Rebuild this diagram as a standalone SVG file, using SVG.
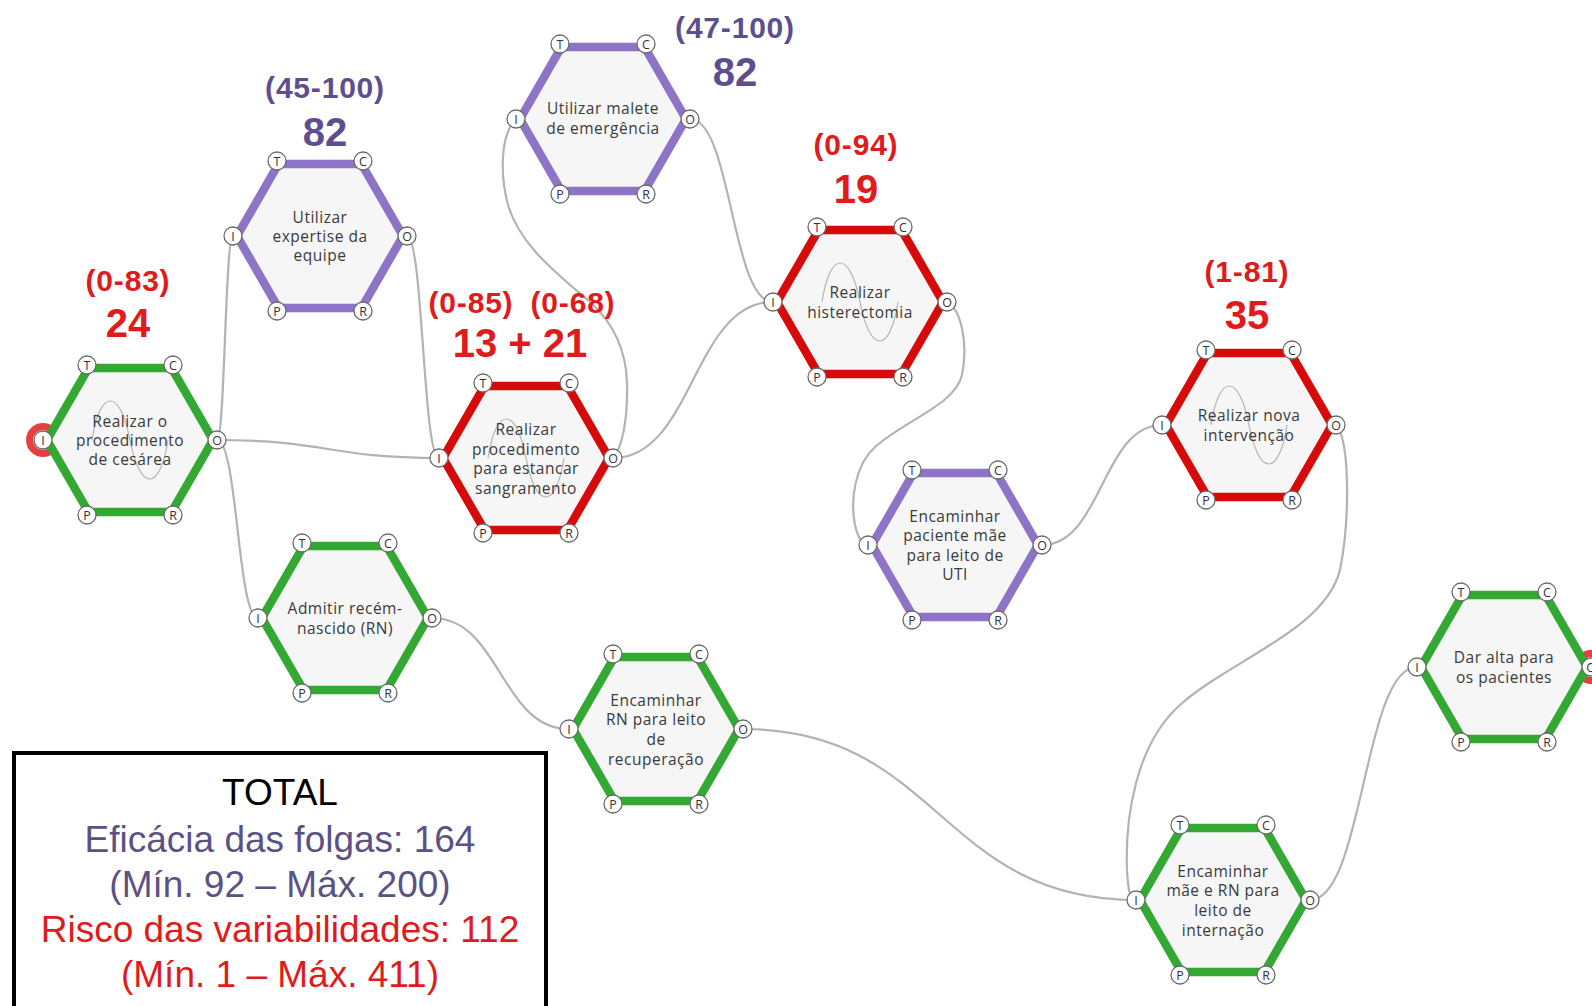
<svg xmlns="http://www.w3.org/2000/svg" xmlns:xlink="http://www.w3.org/1999/xlink" width="1592" height="1006" viewBox="0 0 1592 1006">
  <style>
    .hx { fill: #f6f6f6; stroke-width: 8.5; stroke-linejoin: miter; }
    .green { stroke: #33a833; }
    .red { stroke: #d70a0a; }
    .purple { stroke: #8e74c6; }
    .wave { fill: none; stroke: #b4b4b4; stroke-width: 1.2; }
    .port { fill: #ffffff; stroke: #6a6a6a; stroke-width: 1.3; }
    .pl { font-family: "Open Sans", "DejaVu Sans", sans-serif; font-size: 12.5px; fill: #333; text-anchor: middle; dominant-baseline: central; }
    .lbl { font-family: "Open Sans", "DejaVu Sans", sans-serif; font-size: 15.5px; fill: #3a3a3a; text-anchor: middle; dominant-baseline: central; letter-spacing: 0.5px; }
    .link { fill: none; stroke: #b3b3b3; stroke-width: 2.2; }
    .ring { fill: none; stroke: #e5403f; stroke-width: 7; }
    .rnum { font-family: "Liberation Sans", Arial, sans-serif; font-weight: bold; fill: #e01b1b; text-anchor: middle; }
    .pnum { font-family: "Liberation Sans", Arial, sans-serif; font-weight: bold; fill: #5d4e8e; text-anchor: middle; }
    .rng { font-size: 30px; letter-spacing: 0.8px; }
    .val { font-size: 40px; }
    .tot { font-family: "Liberation Sans", Arial, sans-serif; font-size: 37px; text-anchor: middle; }
  </style>
  <defs>
    <polygon id="hex" points="-41.5,-72 41.5,-72 83,0 41.5,72 -41.5,72 -83,0"/>
    <path id="wave" class="wave" d="M -38,0 C -30,-52 -10,-52 0,0 C 10,52 30,52 38,0"/>
    <g id="ports">
      <circle class="port" cx="-43" cy="-75" r="9"/><text class="pl" x="-43" y="-75">T</text>
      <circle class="port" cx="43" cy="-75" r="9"/><text class="pl" x="43" y="-75">C</text>
      <circle class="port" cx="-87" cy="0" r="9"/><text class="pl" x="-87" y="0">I</text>
      <circle class="port" cx="87" cy="0" r="9"/><text class="pl" x="87" y="0">O</text>
      <circle class="port" cx="-43" cy="75" r="9"/><text class="pl" x="-43" y="75">P</text>
      <circle class="port" cx="43" cy="75" r="9"/><text class="pl" x="43" y="75">R</text>
    </g>
  </defs>

  <rect width="1592" height="1006" fill="#ffffff"/>

  <!-- connectors: output (O) to input (I) -->
  <g id="connectors">
    <path class="link" d="M 217,440 C 225,440 225,236 233,236"/>
    <path class="link" d="M 217,440 C 328,440 328,458 439,458"/>
    <path class="link" d="M 217,440 C 237.5,440 237.5,618 258,618"/>
    <path class="link" d="M 407,236 C 423,236 423,458 439,458"/>
    <path class="link" d="M 613,458 C 622,448 628,420 627,383 C 626,345 610,320 590,302 C 555,272 520,245 508,205 C 500,175 500,135 516,119"/>
    <path class="link" d="M 613,458 C 693,458 693,302 773,302"/>
    <path class="link" d="M 690,119 C 731.5,119 731.5,302 773,302"/>
    <path class="link" d="M 947,302 C 962,310 968,345 962,375 C 955,405 905,420 875,447 C 855,465 850,500 855,525 C 858,538 862,545 868,545"/>
    <path class="link" d="M 1042,545 C 1102,545 1102,425 1162,425"/>
    <path class="link" d="M 1336,425 C 1350,440 1350,520 1340,570 C 1325,630 1230,660 1180,705 C 1135,745 1125,820 1127,870 C 1128,890 1130,900 1136,900"/>
    <path class="link" d="M 432,618 C 500.5,618 500.5,729 569,729"/>
    <path class="link" d="M 743,729 C 939.5,729 939.5,900 1136,900"/>
    <path class="link" d="M 1310,900 C 1363.5,900 1363.5,667 1417,667"/>
  </g>

  <!-- start / end markers -->
  <circle class="ring" cx="43" cy="440" r="13.5"/>
  <circle class="ring" cx="1591" cy="667" r="13.5"/>

  <g id="n-cesarea" transform="translate(130,440)">
    <use href="#hex" class="hx green"/>
    <use href="#wave"/>
    <text class="lbl"><tspan x="0" y="-19">Realizar o</tspan><tspan x="0" y="0">procedimento</tspan><tspan x="0" y="19">de cesárea</tspan></text>
    <use href="#ports"/>
  </g>

  <g id="n-expertise" transform="translate(320,236)">
    <use href="#hex" class="hx purple"/>
    <text class="lbl"><tspan x="0" y="-19">Utilizar</tspan><tspan x="0" y="0">expertise da</tspan><tspan x="0" y="19">equipe</tspan></text>
    <use href="#ports"/>
  </g>

  <g id="n-estancar" transform="translate(526,458)">
    <use href="#hex" class="hx red"/>
    <use href="#wave"/>
    <text class="lbl"><tspan x="0" y="-29">Realizar</tspan><tspan x="0" y="-9.5">procedimento</tspan><tspan x="0" y="10">para estancar</tspan><tspan x="0" y="29.5">sangramento</tspan></text>
    <use href="#ports"/>
  </g>

  <g id="n-malete" transform="translate(603,119)">
    <use href="#hex" class="hx purple"/>
    <text class="lbl"><tspan x="0" y="-11">Utilizar malete</tspan><tspan x="0" y="9">de emergência</tspan></text>
    <use href="#ports"/>
  </g>

  <g id="n-histerectomia" transform="translate(860,302)">
    <use href="#hex" class="hx red"/>
    <use href="#wave"/>
    <text class="lbl"><tspan x="0" y="-10">Realizar</tspan><tspan x="0" y="9.5">histerectomia</tspan></text>
    <use href="#ports"/>
  </g>

  <g id="n-uti" transform="translate(955,545)">
    <use href="#hex" class="hx purple"/>
    <text class="lbl"><tspan x="0" y="-29">Encaminhar</tspan><tspan x="0" y="-10">paciente mãe</tspan><tspan x="0" y="9.5">para leito de</tspan><tspan x="0" y="28.5">UTI</tspan></text>
    <use href="#ports"/>
  </g>

  <g id="n-nova" transform="translate(1249,425)">
    <use href="#hex" class="hx red"/>
    <use href="#wave"/>
    <text class="lbl"><tspan x="0" y="-10">Realizar nova</tspan><tspan x="0" y="9.5">intervenção</tspan></text>
    <use href="#ports"/>
  </g>

  <g id="n-admitir" transform="translate(345,618)">
    <use href="#hex" class="hx green"/>
    <text class="lbl"><tspan x="0" y="-10">Admitir recém-</tspan><tspan x="0" y="9.5">nascido (RN)</tspan></text>
    <use href="#ports"/>
  </g>

  <g id="n-recuperacao" transform="translate(656,729)">
    <use href="#hex" class="hx green"/>
    <text class="lbl"><tspan x="0" y="-29.5">Encaminhar</tspan><tspan x="0" y="-10">RN para leito</tspan><tspan x="0" y="10">de</tspan><tspan x="0" y="29.5">recuperação</tspan></text>
    <use href="#ports"/>
  </g>

  <g id="n-internacao" transform="translate(1223,900)">
    <use href="#hex" class="hx green"/>
    <text class="lbl"><tspan x="0" y="-29.5">Encaminhar</tspan><tspan x="0" y="-10">mãe e RN para</tspan><tspan x="0" y="10">leito de</tspan><tspan x="0" y="29.5">internação</tspan></text>
    <use href="#ports"/>
  </g>

  <g id="n-alta" transform="translate(1504,667)">
    <use href="#hex" class="hx green"/>
    <text class="lbl"><tspan x="0" y="-10">Dar alta para</tspan><tspan x="0" y="10">os pacientes</tspan></text>
    <use href="#ports"/>
  </g>

  <!-- scores above functions -->
  <g id="scores">
    <text class="rnum rng" x="128" y="291">(0-83)</text>
    <text class="rnum val" x="128" y="337">24</text>

    <text class="pnum rng" x="325" y="98">(45-100)</text>
    <text class="pnum val" x="325" y="146">82</text>

    <text class="rnum rng" x="471" y="313">(0-85)</text>
    <text class="rnum rng" x="573" y="313">(0-68)</text>
    <text class="rnum val" x="520" y="357">13 + 21</text>

    <text class="pnum rng" x="735" y="38">(47-100)</text>
    <text class="pnum val" x="735" y="86">82</text>

    <text class="rnum rng" x="856" y="155">(0-94)</text>
    <text class="rnum val" x="856" y="203">19</text>

    <text class="rnum rng" x="1247" y="282">(1-81)</text>
    <text class="rnum val" x="1247" y="329">35</text>
  </g>

  <!-- totals panel -->
  <g id="total">
    <rect x="14" y="753" width="532" height="270" fill="#ffffff" stroke="#000000" stroke-width="4"/>
    <text class="tot" x="280" y="805" fill="#000000">TOTAL</text>
    <text class="tot" x="280" y="852" fill="#5a5285">Eficácia das folgas: 164</text>
    <text class="tot" x="280" y="897" fill="#5a5285">(Mín. 92 – Máx. 200)</text>
    <text class="tot" x="280" y="942" fill="#e01b1b">Risco das variabilidades: 112</text>
    <text class="tot" x="280" y="987" fill="#e01b1b">(Mín. 1 – Máx. 411)</text>
  </g>
</svg>
